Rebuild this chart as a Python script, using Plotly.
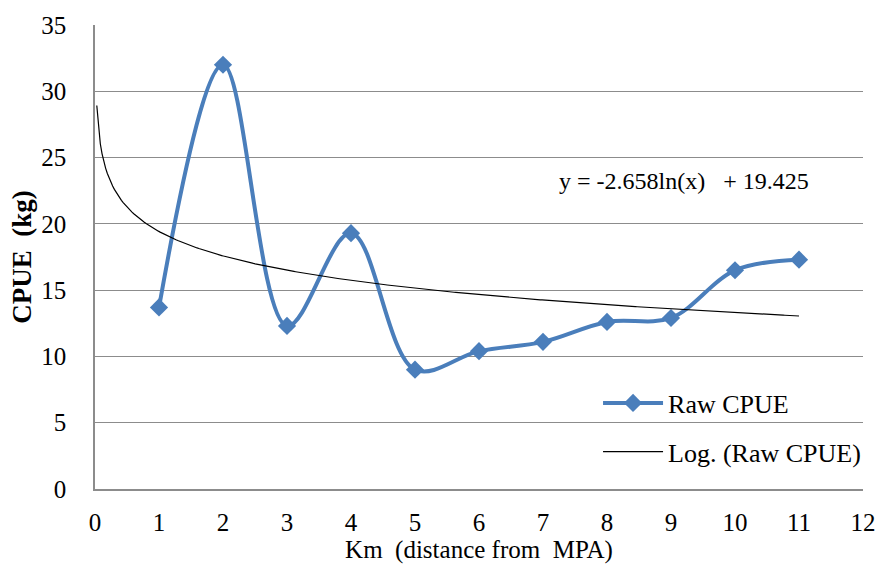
import numpy as np
import plotly.graph_objects as go

km = [1, 2, 3, 4, 5, 6, 7, 8, 9, 10, 11]
cpue = [13.7, 32.0, 12.3, 19.3, 9.0, 10.4, 11.1, 12.6, 12.9, 16.5, 17.3]

# logarithmic trendline coefficients as shown on the chart
log_a = -2.658
log_b = 19.425
trend_x = np.linspace(0.028, 11, 400)
trend_y = log_a * np.log(trend_x) + log_b

x_ticks = list(range(0, 13))
y_ticks = list(range(0, 36, 5))

FONT = "Times New Roman, Liberation Serif, serif"
BLUE = "#4A7EBB"
GRID = "#8C8C8C"
NB = "\u00a0"

fig = go.Figure()
fig.add_trace(go.Scatter(
    x=km, y=cpue, mode="lines+markers", name="Raw CPUE",
    line=dict(color=BLUE, width=4, shape="spline", smoothing=1.0),
    marker=dict(symbol="diamond", size=14, color=BLUE),
    legendgroup="a",
))
fig.add_trace(go.Scatter(
    x=trend_x, y=trend_y, mode="lines", name="Log. (Raw CPUE)",
    line=dict(color="black", width=1.2),
    legendgroup="b",
))

fig.add_annotation(
    x=7.22, y=23.2, xref="x", yref="y", xanchor="left", yanchor="middle",
    text="y = -2.658ln(x)" + NB * 3 + "+ 19.425", showarrow=False,
    font=dict(family=FONT, size=24, color="black"),
)

fig.update_layout(
    width=888, height=565,
    margin=dict(l=95, r=22, t=17, b=72),
    paper_bgcolor="white", plot_bgcolor="white",
    font=dict(family=FONT, size=25, color="black"),
    showlegend=True,
    legend=dict(
        x=0.655, y=0.236, xanchor="left", yanchor="top",
        bgcolor="rgba(0,0,0,0)", font=dict(family=FONT, size=26, color="black"),
        traceorder="grouped", tracegroupgap=12, itemwidth=60,
    ),
    xaxis=dict(
        range=[0, 12], tickvals=x_ticks, ticktext=[str(v) for v in x_ticks],
        showgrid=False, zeroline=False, showline=True, linecolor=GRID, linewidth=1.5,
        ticks="", ticklabelstandoff=10, tickfont=dict(family=FONT, size=25),
        title=dict(text="Km" + NB * 2 + "(distance from" + NB * 2 + "MPA)",
                   font=dict(family=FONT, size=25), standoff=0),
    ),
    yaxis=dict(
        range=[0, 35], tickvals=y_ticks, ticktext=[str(v) for v in y_ticks],
        showgrid=True, gridcolor=GRID, gridwidth=1.2, zeroline=False,
        showline=True, linecolor=GRID, linewidth=1.5,
        ticks="", ticklabelstandoff=22, tickfont=dict(family=FONT, size=25),
        title=dict(text="<b>CPUE" + NB * 2 + "(kg)</b>", font=dict(family=FONT, size=27), standoff=2),
    ),
)

fig.write_html("out.html")
